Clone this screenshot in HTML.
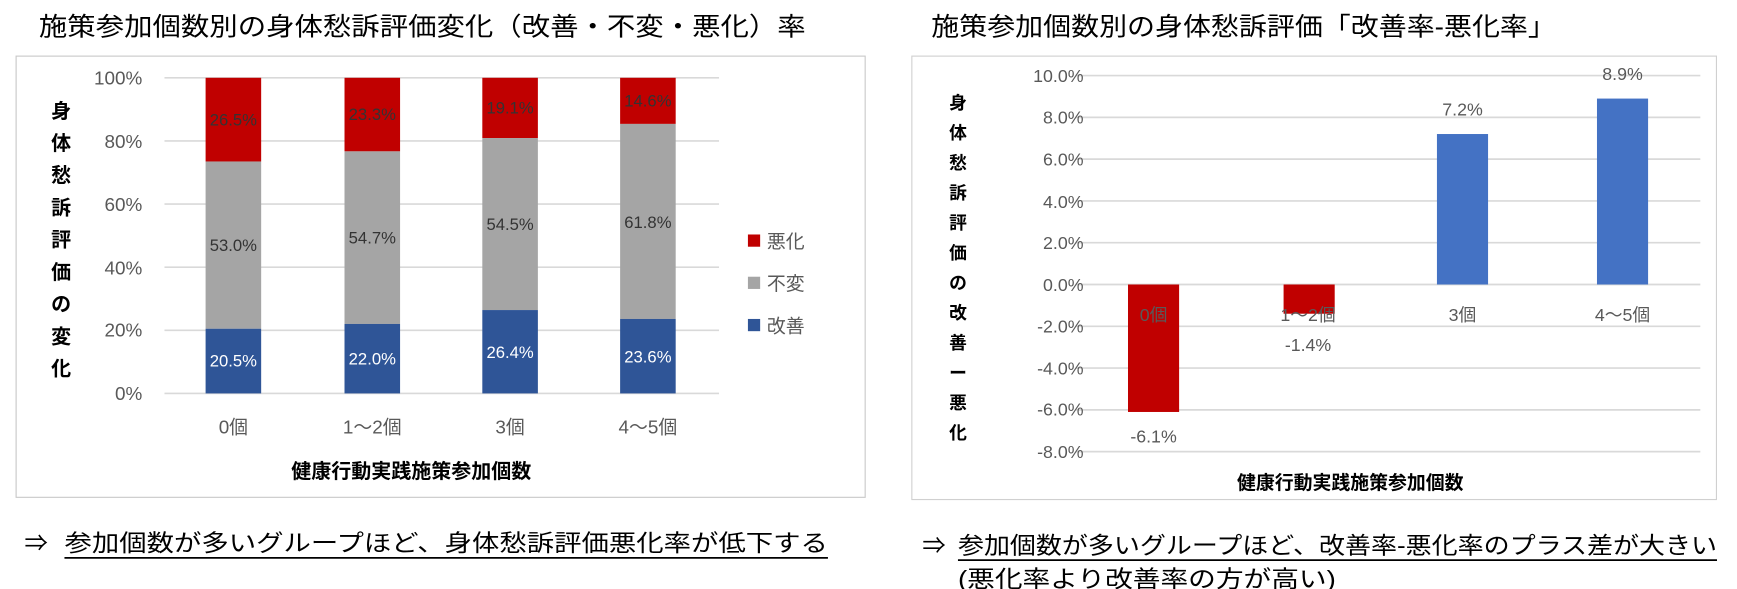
<!DOCTYPE html>
<html><head><meta charset="utf-8"><style>
html,body{margin:0;padding:0;background:#fff;}
svg{display:block;font-family:"Liberation Sans","Noto Sans CJK JP",sans-serif;}
</style></head><body>
<svg width="1737" height="589" viewBox="0 0 1563 530" preserveAspectRatio="none" xmlns="http://www.w3.org/2000/svg">
<!-- LEFT -->
<text x="35" y="32" font-size="23" fill="#000" textLength="690" lengthAdjust="spacingAndGlyphs">施策参加個数別の身体愁訴評価変化（改善・不変・悪化）率</text>
<rect x="14.5" y="50.5" width="764" height="397" fill="#fff" stroke="#c8c8c8"/>
<g stroke="#d9d9d9" stroke-width="1.5">
<line x1="148" x2="647" y1="70" y2="70"/><line x1="148" x2="647" y1="126.8" y2="126.8"/>
<line x1="148" x2="647" y1="183.6" y2="183.6"/><line x1="148" x2="647" y1="240.4" y2="240.4"/>
<line x1="148" x2="647" y1="297.2" y2="297.2"/><line x1="148" x2="647" y1="354" y2="354"/>
</g>
<g font-size="17" fill="#595959" text-anchor="end">
<text x="128" y="76">100%</text><text x="128" y="133">80%</text><text x="128" y="190">60%</text>
<text x="128" y="247">40%</text><text x="128" y="303">20%</text><text x="128" y="360">0%</text>
</g>
<g font-size="18" font-weight="bold" fill="#000" text-anchor="middle">
<text x="55" y="106">身</text><text x="55" y="135">体</text><text x="55" y="164">愁</text>
<text x="55" y="193">訴</text><text x="55" y="222">評</text><text x="55" y="251">価</text>
<text x="55" y="280">の</text><text x="55" y="309">変</text><text x="55" y="338">化</text>
</g>
<rect x="185" y="70" width="50" height="75.3" fill="#c00000"/><rect x="185" y="145.3" width="50" height="150.5" fill="#a5a5a5"/><rect x="185" y="295.8" width="50" height="58.2" fill="#2f5597"/>
<rect x="310" y="70" width="50" height="66.2" fill="#c00000"/><rect x="310" y="136.2" width="50" height="155.3" fill="#a5a5a5"/><rect x="310" y="291.5" width="50" height="62.5" fill="#2f5597"/>
<rect x="434" y="70" width="50" height="54.2" fill="#c00000"/><rect x="434" y="124.2" width="50" height="154.8" fill="#a5a5a5"/><rect x="434" y="279" width="50" height="75" fill="#2f5597"/>
<rect x="558" y="70" width="50" height="41.5" fill="#c00000"/><rect x="558" y="111.5" width="50" height="175.5" fill="#a5a5a5"/><rect x="558" y="287" width="50" height="67" fill="#2f5597"/>
<g font-size="15" text-anchor="middle">
<text x="210" y="113" fill="#333">26.5%</text><text x="210" y="226" fill="#333">53.0%</text><text x="210" y="330" fill="#fff">20.5%</text>
<text x="335" y="108" fill="#333">23.3%</text><text x="335" y="219" fill="#333">54.7%</text><text x="335" y="328" fill="#fff">22.0%</text>
<text x="459" y="102" fill="#333">19.1%</text><text x="459" y="207" fill="#333">54.5%</text><text x="459" y="322" fill="#fff">26.4%</text>
<text x="583" y="96" fill="#333">14.6%</text><text x="583" y="205" fill="#333">61.8%</text><text x="583" y="326" fill="#fff">23.6%</text>
</g>
<g font-size="17" fill="#595959" text-anchor="middle">
<text x="210" y="390">0個</text><text x="335" y="390">1～2個</text><text x="459" y="390">3個</text><text x="583" y="390">4～5個</text>
</g>
<text x="370" y="430" font-size="18" font-weight="bold" text-anchor="middle" fill="#000">健康行動実践施策参加個数</text>
<rect x="673" y="211" width="11" height="11" fill="#c00000"/><text x="690" y="223" font-size="17" fill="#595959">悪化</text>
<rect x="673" y="249" width="11" height="11" fill="#a5a5a5"/><text x="690" y="261" font-size="17" fill="#595959">不変</text>
<rect x="673" y="287" width="11" height="11" fill="#2f5597"/><text x="690" y="299" font-size="17" fill="#595959">改善</text>
<text x="22" y="496" font-size="21" fill="#000">⇒</text>
<text x="58" y="496" font-size="21" fill="#000" textLength="687" lengthAdjust="spacingAndGlyphs">参加個数が多いグループほど、身体愁訴評価悪化率が低下する</text>
<line x1="58" x2="745" y1="502" y2="502" stroke="#000" stroke-width="1.5"/>

<!-- RIGHT -->
<text x="838" y="32" font-size="23" fill="#000" textLength="562" lengthAdjust="spacingAndGlyphs">施策参加個数別の身体愁訴評価「改善率-悪化率」</text>
<rect x="820.5" y="50.5" width="724" height="399" fill="#fff" stroke="#d0d0d0"/>
<g stroke="#d9d9d9" stroke-width="1.5">
<line x1="968" x2="1530" y1="68" y2="68"/><line x1="968" x2="1530" y1="105.6" y2="105.6"/>
<line x1="968" x2="1530" y1="143.2" y2="143.2"/><line x1="968" x2="1530" y1="180.8" y2="180.8"/>
<line x1="968" x2="1530" y1="218.4" y2="218.4"/><line x1="968" x2="1530" y1="256" y2="256"/>
<line x1="968" x2="1530" y1="293.6" y2="293.6"/><line x1="968" x2="1530" y1="331.2" y2="331.2"/>
<line x1="968" x2="1530" y1="368.8" y2="368.8"/><line x1="968" x2="1530" y1="406.4" y2="406.4"/>
</g>
<g font-size="16" fill="#595959" text-anchor="end">
<text x="975" y="74">10.0%</text><text x="975" y="111">8.0%</text><text x="975" y="149">6.0%</text>
<text x="975" y="187">4.0%</text><text x="975" y="224">2.0%</text><text x="975" y="262">0.0%</text>
<text x="975" y="299">-2.0%</text><text x="975" y="337">-4.0%</text><text x="975" y="374">-6.0%</text><text x="975" y="412">-8.0%</text>
</g>
<g font-size="16" font-weight="bold" fill="#000" text-anchor="middle">
<text x="862" y="98">身</text><text x="862" y="125">体</text><text x="862" y="152">愁</text>
<text x="862" y="179">訴</text><text x="862" y="206">評</text><text x="862" y="233">価</text>
<text x="862" y="260">の</text><text x="862" y="287">改</text><text x="862" y="314">善</text>
<text x="862" y="341">ー</text><text x="862" y="368">悪</text><text x="862" y="395">化</text>
</g>
<rect x="1015" y="256" width="46" height="114.7" fill="#c00000"/>
<rect x="1155" y="256" width="46" height="26.3" fill="#c00000"/>
<rect x="1293" y="120.6" width="46" height="135.4" fill="#4472c4"/>
<rect x="1437" y="88.7" width="46" height="167.3" fill="#4472c4"/>
<g font-size="16" fill="#595959" text-anchor="middle">
<text x="1038" y="289">0個</text><text x="1177" y="289">1～2個</text><text x="1316" y="289">3個</text><text x="1460" y="289">4～5個</text>
<text x="1316" y="104">7.2%</text><text x="1460" y="72">8.9%</text>
<text x="1177" y="316">-1.4%</text><text x="1038" y="398">-6.1%</text>
</g>
<text x="1215" y="440" font-size="17" font-weight="bold" text-anchor="middle" fill="#000">健康行動実践施策参加個数</text>
<text x="830" y="498" font-size="21" fill="#000">⇒</text>
<text x="862" y="498" font-size="21" fill="#000" textLength="683" lengthAdjust="spacingAndGlyphs">参加個数が多いグループほど、改善率-悪化率のプラス差が大きい</text>
<line x1="862" x2="1545" y1="504" y2="504" stroke="#000" stroke-width="1.5"/>
<text x="862" y="528" font-size="21" fill="#000" textLength="340" lengthAdjust="spacingAndGlyphs">(悪化率より改善率の方が高い)</text>
</svg>
</body></html>
